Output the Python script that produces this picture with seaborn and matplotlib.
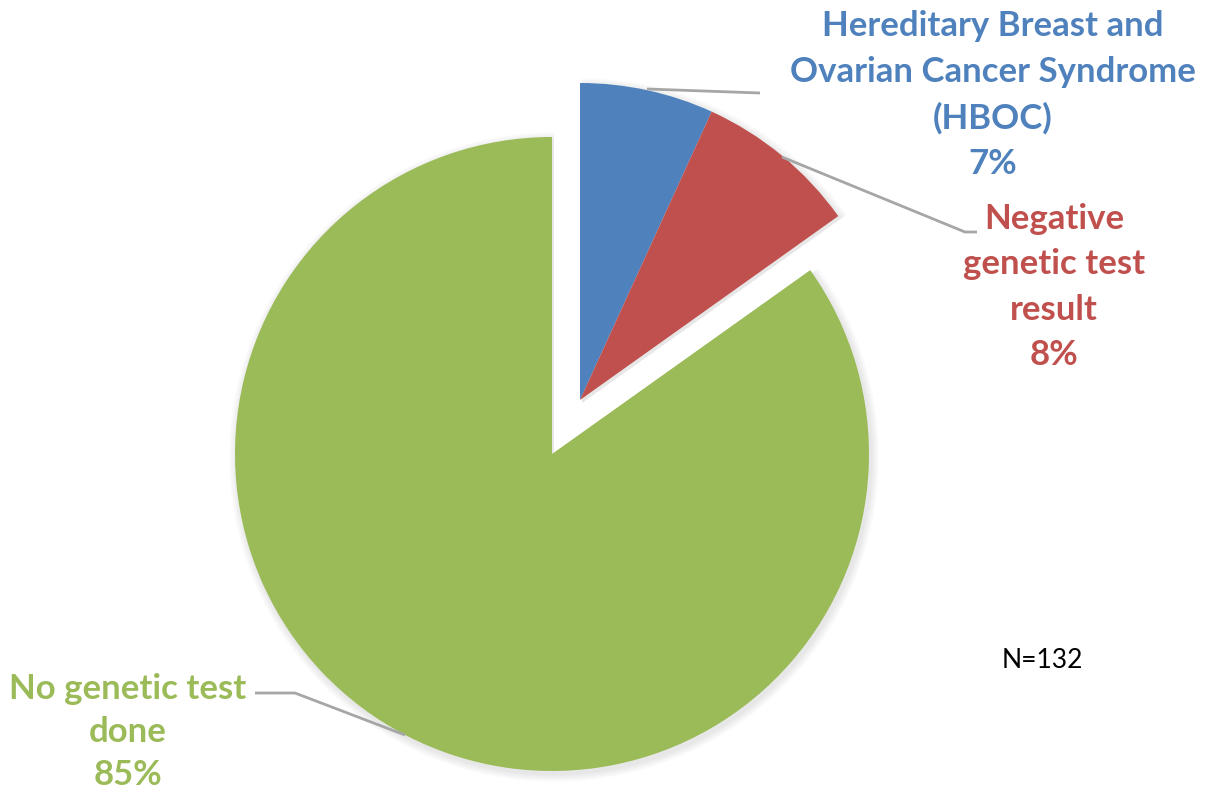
import matplotlib
matplotlib.use("Agg")
import matplotlib.pyplot as plt
from matplotlib.patches import Wedge
import seaborn as sns

# Genetic testing outcome among patients (N=132)
categories = ["Hereditary Breast and\nOvarian Cancer Syndrome\n(HBOC)",
              "Negative\ngenetic test\nresult",
              "No genetic test\ndone"]
counts = [9, 11, 112]
percent_labels = ["7%", "8%", "85%"]
sample_note = "N=132"

sns.set_theme(style="white")
plt.rcParams["font.family"] = ["Lato", "DejaVu Sans"]

colors = ["#4F81BD", "#C0504D", "#9BBB59"]

W, H = 1215, 793
fig = plt.figure(figsize=(W / 100, H / 100), dpi=100)
ax = fig.add_axes([0, 0, 1, 1])

center = (552, H - 454)
radius = 317
wedges, _ = ax.pie(counts, colors=colors, startangle=90, counterclock=False,
                   center=center, radius=radius,
                   wedgeprops=dict(linewidth=0, zorder=3))

# pull the two tested groups out together, away from the centre
shift = (28, 54)
for w in wedges[:2]:
    w.set_center((w.center[0] + shift[0], w.center[1] + shift[1]))

# soft drop shadow under every slice
for w in wedges:
    cx, cy = w.center
    for k in range(1, 9):
        ax.add_patch(Wedge((cx + 2, cy - 3), w.r + k, w.theta1, w.theta2,
                           facecolor="#808090", edgecolor="none",
                           alpha=0.022, zorder=1))

ax.set_xlim(0, W)
ax.set_ylim(0, H)
ax.set_aspect("equal")
ax.axis("off")

line_kw = dict(color="#A6A6A6", linewidth=2, solid_capstyle="butt", zorder=4)

# leader lines
ax.plot([647, 760], [H - 89, H - 93], **line_kw)
ax.plot([782, 965, 977], [H - 157, H - 232, H - 232], **line_kw)
ax.plot([405, 295, 255], [H - 735, H - 693, H - 693], **line_kw)

text_kw = dict(ha="center", va="center", fontsize=25, fontweight="bold")
ax.text(993, H - 95, categories[0] + "\n" + percent_labels[0],
        color=colors[0], linespacing=1.52, **text_kw)
ax.text(1054, H - 287, categories[1] + "\n" + percent_labels[1],
        color=colors[1], linespacing=1.52, **text_kw)
ax.text(128, H - 732, categories[2] + "\n" + percent_labels[2],
        color=colors[2], linespacing=1.42, **text_kw)

ax.text(1042, H - 660, sample_note, ha="center", va="center",
        fontsize=19, color="black")

fig.savefig("out.png", dpi=100)
